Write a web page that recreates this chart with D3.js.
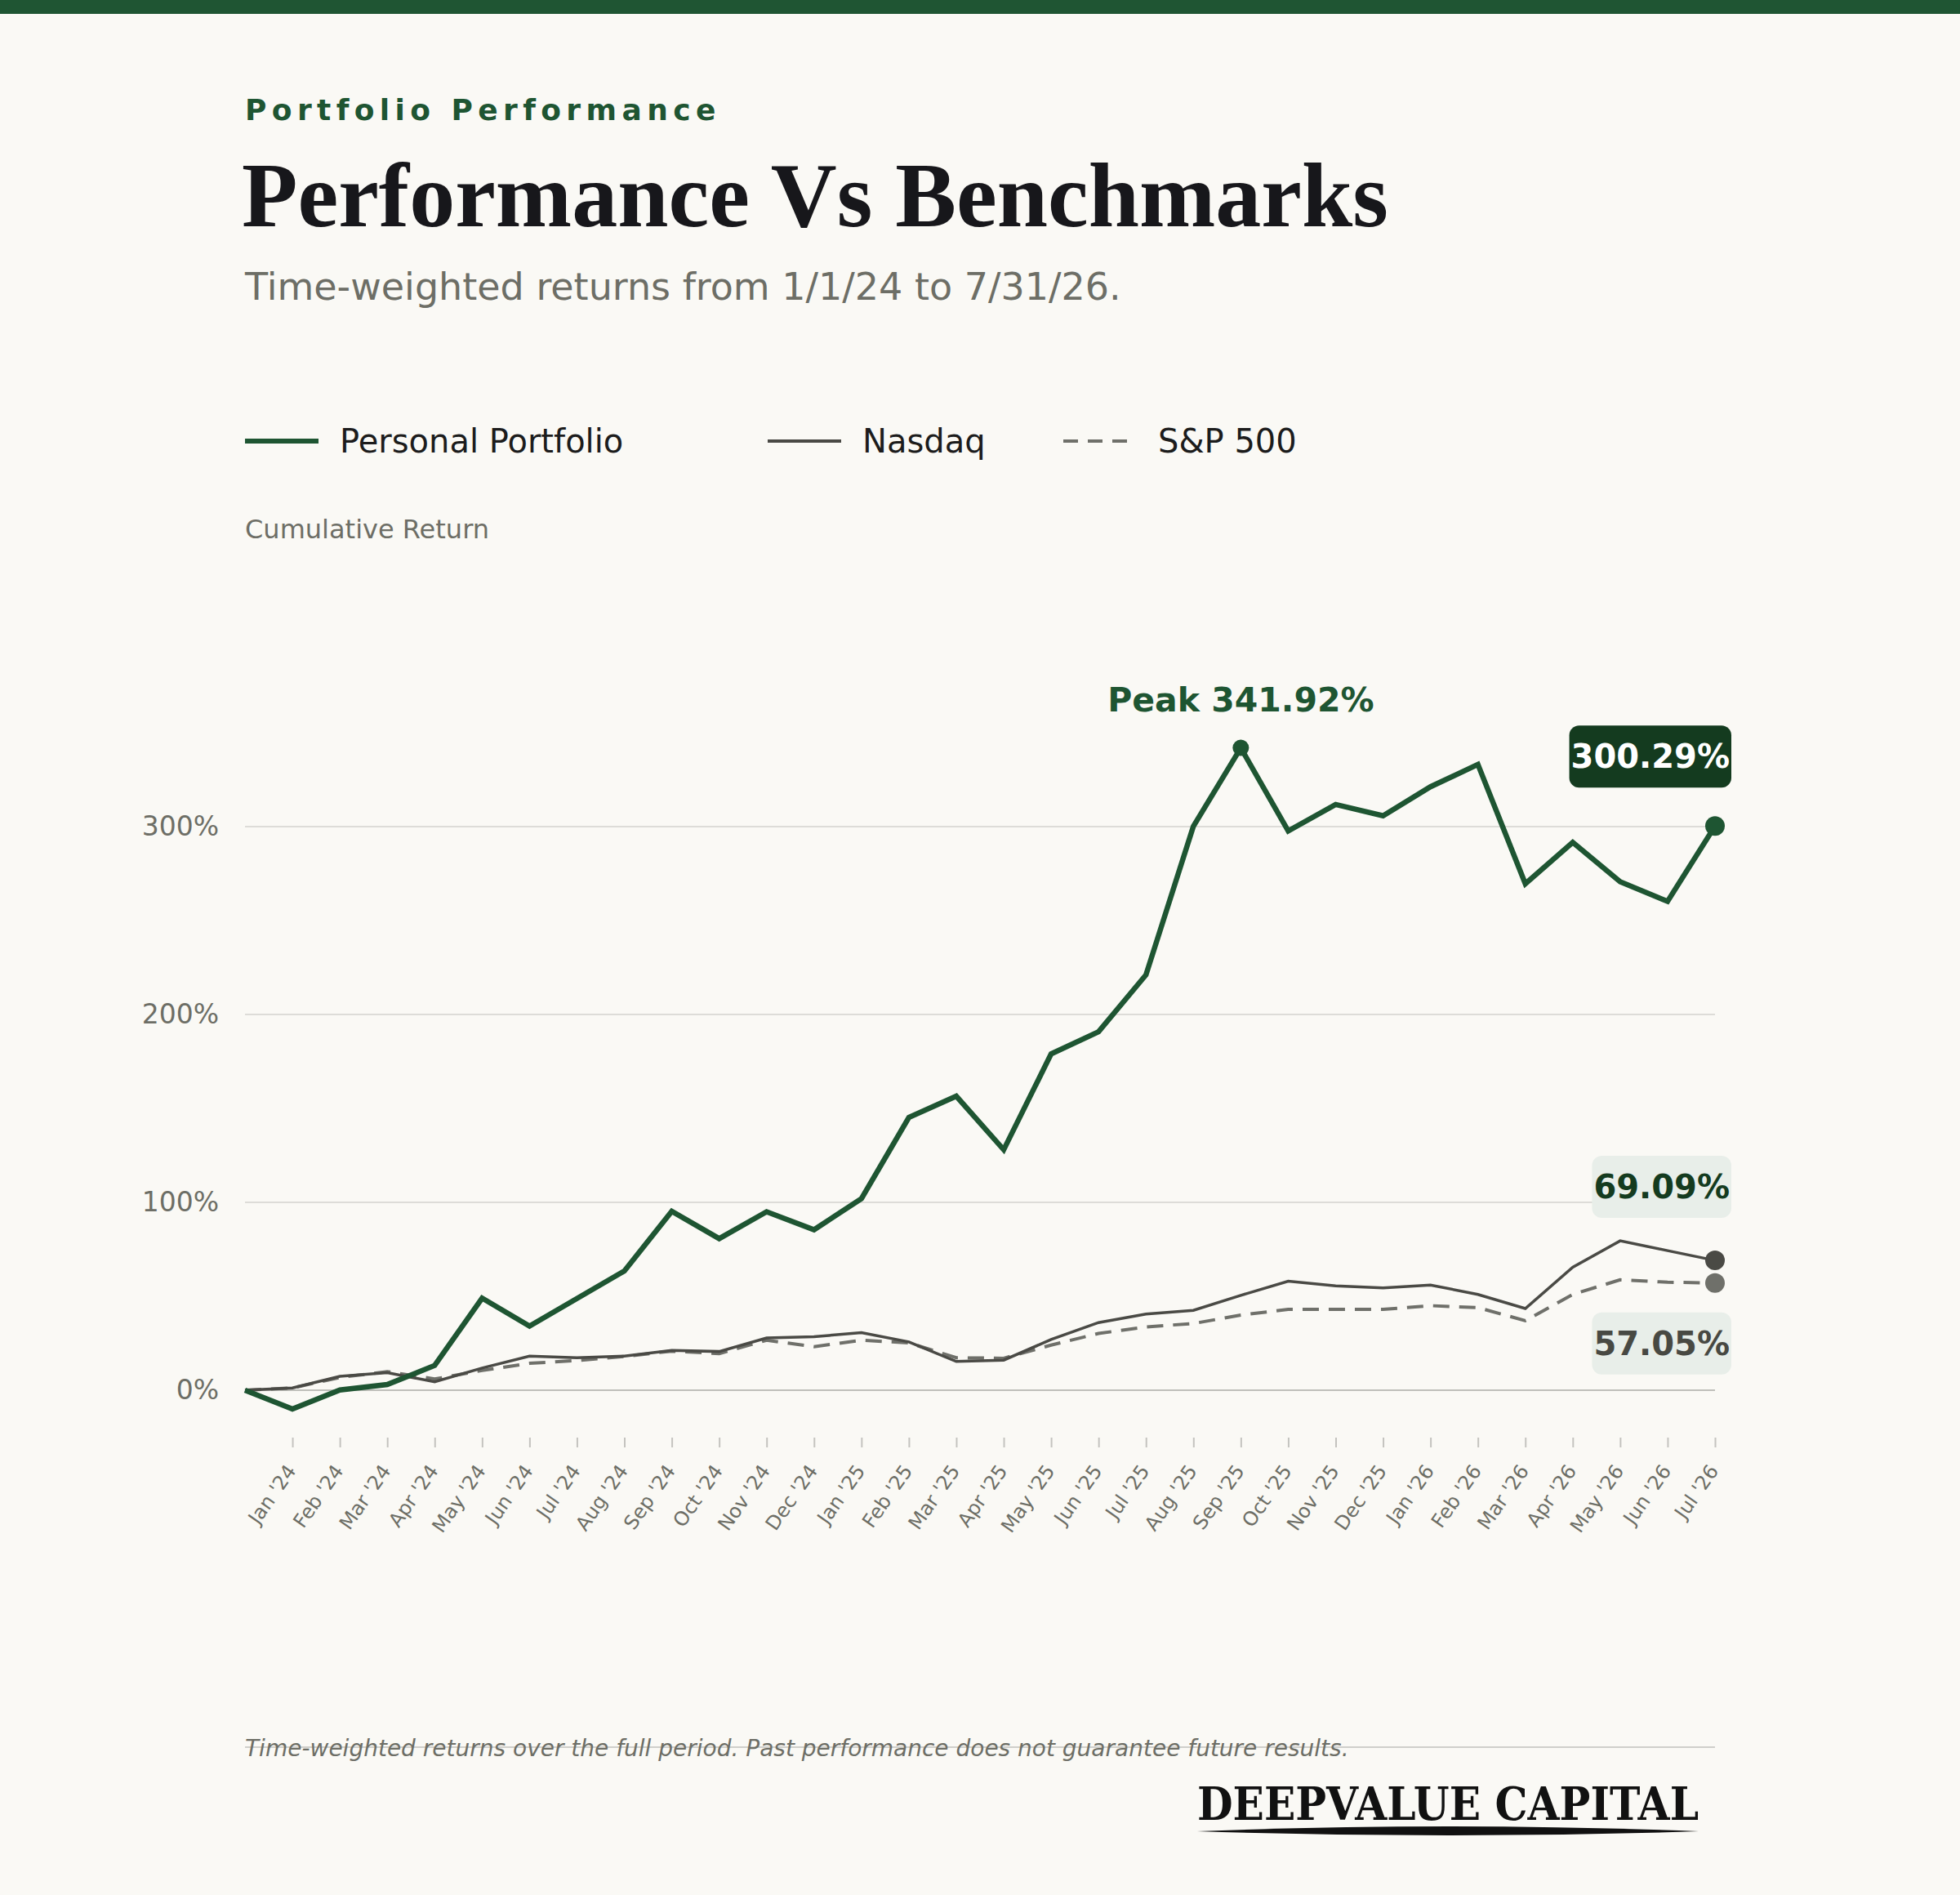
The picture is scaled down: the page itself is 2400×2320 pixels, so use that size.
<!DOCTYPE html>
<html>
<head>
<meta charset="utf-8">
<script src="https://cdn.jsdelivr.net/npm/d3@7"></script>
<style>
  html, body { margin: 0; padding: 0; background: #faf9f5; }
  svg { display: block; }
</style>
</head>
<body>
<div id="chart"></div>
<script>
// month-end labels (index 0 is the 1/1/24 start point, no label)
const monthLabels = [
  "Jan '24", "Feb '24", "Mar '24", "Apr '24", "May '24", "Jun '24", "Jul '24", "Aug '24",
  "Sep '24", "Oct '24", "Nov '24", "Dec '24", "Jan '25", "Feb '25", "Mar '25", "Apr '25",
  "May '25", "Jun '25", "Jul '25", "Aug '25", "Sep '25", "Oct '25", "Nov '25", "Dec '25",
  "Jan '26", "Feb '26", "Mar '26", "Apr '26", "May '26", "Jun '26", "Jul '26"
];
const portfolio = [0, -10, 0.1, 3, 13.2, 49, 34.1, 48.8, 63.5, 95.2, 80.7, 95, 85.4, 102, 145.2, 156.5,
  128, 179, 190.8, 221.1, 300.2, 341.92, 297.7, 311.8, 305.8, 321.2, 333.1, 269.6, 291.6, 270.7, 260.2, 300.29];
const nasdaq = [0, 1.2, 7.4, 9.3, 4.5, 11.8, 18.1, 17.3, 18.2, 21.2, 20.6, 27.8, 28.5, 30.6, 25.7, 15.3,
  16, 27, 36, 40.5, 42.5, 50.5, 58, 55.5, 54.5, 56, 51, 43.5, 65.5, 79.5, 74.3, 69.09];
const sp500 = [0, 1.2, 6.8, 9.9, 6, 10.5, 14.3, 15.8, 18, 20.8, 19.5, 26.6, 23.2, 26.6, 25.2, 17.3,
  17, 24, 30.2, 33.7, 35.5, 40, 43, 43, 43, 45, 44, 37, 51, 58.75, 57.5, 57.05];
const yTicks = [0, 100, 200, 300];

const W = 2400, H = 2320;
const GREEN = '#1e5532', DARKGREEN = '#143b1f', NASDAQ = '#4a4a45', SP = '#6f706a', MUTED = '#6d6e66';
const SANS = "'DejaVu Sans', sans-serif";

const svg = d3.select('#chart').append('svg').attr('width', W).attr('height', H);
svg.append('rect').attr('width', W).attr('height', H).attr('fill', '#faf9f5');
svg.append('rect').attr('width', W).attr('height', 17).attr('fill', '#1f5533');

/* s: header */
svg.append('text').attr('x', 300).attr('y', 147)
  .attr('font-family', SANS).attr('font-weight', 'bold').attr('font-size', 36)
  .attr('letter-spacing', 6.4).attr('fill', GREEN).text('Portfolio Performance');
svg.append('text').attr('x', 296).attr('y', 277)
  .attr('font-family', "'Liberation Serif', 'Times New Roman', serif").attr('font-weight', 'bold')
  .attr('font-size', 112).attr('fill', '#17171b').text('Performance Vs Benchmarks');
svg.append('text').attr('x', 300).attr('y', 367)
  .attr('font-family', SANS).attr('font-size', 46).attr('fill', MUTED)
  .text('Time-weighted returns from 1/1/24 to 7/31/26.');
/* e: header */

/* s: legend */
const legendItems = [
  { label: 'Personal Portfolio', color: GREEN, width: 6, dash: null, x: 300 },
  { label: 'Nasdaq', color: NASDAQ, width: 4, dash: null, x: 940 },
  { label: 'S&P 500', color: SP, width: 4, dash: '18,12', x: 1302 },
];
const legend = svg.append('g').selectAll('g').data(legendItems).join('g')
  .attr('transform', (d) => `translate(${d.x},540)`);
legend.append('line').attr('x1', 0).attr('x2', 90)
  .attr('stroke', (d) => d.color).attr('stroke-width', (d) => d.width)
  .attr('stroke-dasharray', (d) => d.dash);
legend.append('text').attr('x', 116).attr('dy', '0.35em')
  .attr('font-family', SANS).attr('font-size', 40).attr('fill', '#1c1c1c')
  .text((d) => d.label);
/* e: legend */

svg.append('text').attr('x', 300).attr('y', 659)
  .attr('font-family', SANS).attr('font-size', 32).attr('fill', MUTED).text('Cumulative Return');

/* s: scales */
const x = d3.scaleLinear().domain([0, portfolio.length - 1]).range([300, 2100]);
const y = d3.scaleLinear().domain([0, 300]).range([1702, 1012]);
/* e: scales */

// grid
svg.append('g').selectAll('line').data(yTicks).join('line')
  .attr('x1', 300).attr('x2', 2100)
  .attr('y1', (d) => y(d)).attr('y2', (d) => y(d))
  .attr('stroke', (d) => (d === 0 ? '#bfbfba' : '#dddcd8'))
  .attr('stroke-width', 2);

// y labels
const yAxis = svg.append('g').attr('transform', 'translate(268,0)')
  .call(d3.axisLeft(y).tickValues(yTicks).tickSize(0).tickPadding(0).tickFormat((d) => `${d}%`));
yAxis.select('.domain').remove();
yAxis.selectAll('text').attr('font-family', SANS).attr('font-size', 33).attr('fill', MUTED);

// x axis
const xAxis = svg.append('g').attr('transform', 'translate(0,1760)')
  .call(d3.axisBottom(x)
    .tickValues(d3.range(1, portfolio.length))
    .tickSize(12)
    .tickFormat((d) => monthLabels[d - 1]));
xAxis.select('.domain').remove();
xAxis.selectAll('.tick line').attr('stroke', '#c4c3bf').attr('stroke-width', 2);
xAxis.selectAll('.tick text')
  .attr('font-family', SANS).attr('font-size', 24).attr('fill', MUTED)
  .attr('text-anchor', 'end').attr('y', 0).attr('dy', '0.35em')
  .attr('transform', 'translate(-2,36) rotate(-55)');

/* s: lines */
const line = d3.line().x((d, i) => x(i)).y((d) => y(d));
svg.append('path').attr('d', line(sp500)).attr('fill', 'none')
  .attr('stroke', SP).attr('stroke-width', 4).attr('stroke-dasharray', '20,12');
svg.append('path').attr('d', line(nasdaq)).attr('fill', 'none')
  .attr('stroke', NASDAQ).attr('stroke-width', 3.5);
svg.append('path').attr('d', line(portfolio)).attr('fill', 'none')
  .attr('stroke', GREEN).attr('stroke-width', 6.5);
/* e: lines */

// peak
const peakIdx = d3.maxIndex(portfolio);
svg.append('circle').attr('cx', x(peakIdx)).attr('cy', y(portfolio[peakIdx])).attr('r', 10).attr('fill', GREEN);
svg.append('text').attr('x', x(peakIdx)).attr('y', y(portfolio[peakIdx]) - 45)
  .attr('text-anchor', 'middle').attr('font-family', SANS).attr('font-weight', 'bold')
  .attr('font-size', 41).attr('fill', GREEN)
  .text(`Peak ${portfolio[peakIdx].toFixed(2)}%`);

/* s: end labels */
const last = portfolio.length - 1;
const endItems = [
  { v: sp500[last], dot: SP, box: '#e8eee9', text: '#484943', off: 36 },
  { v: nasdaq[last], dot: NASDAQ, box: '#e8eee9', text: DARKGREEN, off: -128 },
  { v: portfolio[last], dot: GREEN, box: DARKGREEN, text: '#ffffff', off: -123 },
];
endItems.forEach((d) => {
  const cy = y(d.v);
  svg.append('circle').attr('cx', x(last)).attr('cy', cy).attr('r', 12).attr('fill', d.dot);
  const g = svg.append('g');
  const rect = g.append('rect').attr('fill', d.box).attr('rx', 12);
  const t = g.append('text').attr('text-anchor', 'middle')
    .attr('font-family', SANS).attr('font-weight', 'bold').attr('font-size', 40)
    .attr('fill', d.text).text(`${d.v.toFixed(2)}%`);
  const tw = t.node().getComputedTextLength();
  const bw = Math.max(tw + 4, 170);
  const right = x(last) + 20;
  const top = cy + d.off;
  rect.attr('x', right - bw).attr('y', top).attr('width', bw).attr('height', 76);
  t.attr('x', right - bw / 2).attr('y', top + 52);
});
/* e: end labels */

/* s: footer */
svg.append('line').attr('x1', 300).attr('x2', 2100).attr('y1', 2139).attr('y2', 2139)
  .attr('stroke', '#cfcfcb').attr('stroke-width', 2);
svg.append('text').attr('x', 300).attr('y', 2150)
  .attr('font-family', SANS).attr('font-style', 'italic').attr('font-size', 28).attr('fill', MUTED)
  .text('Time-weighted returns over the full period. Past performance does not guarantee future results.');
svg.append('text').attr('x', 1466).attr('y', 2228)
  .attr('font-family', "'DejaVu Serif', serif").attr('font-weight', 'bold').attr('font-size', 56)
  .attr('textLength', 614).attr('lengthAdjust', 'spacingAndGlyphs').attr('fill', '#111111')
  .text('DEEPVALUE CAPITAL');
svg.append('path')
  .attr('d', 'M1466,2242 Q1773,2230 2080,2242 Q1773,2252 1466,2242 Z')
  .attr('fill', '#111111');
/* e: footer */
</script>
</body>
</html>
